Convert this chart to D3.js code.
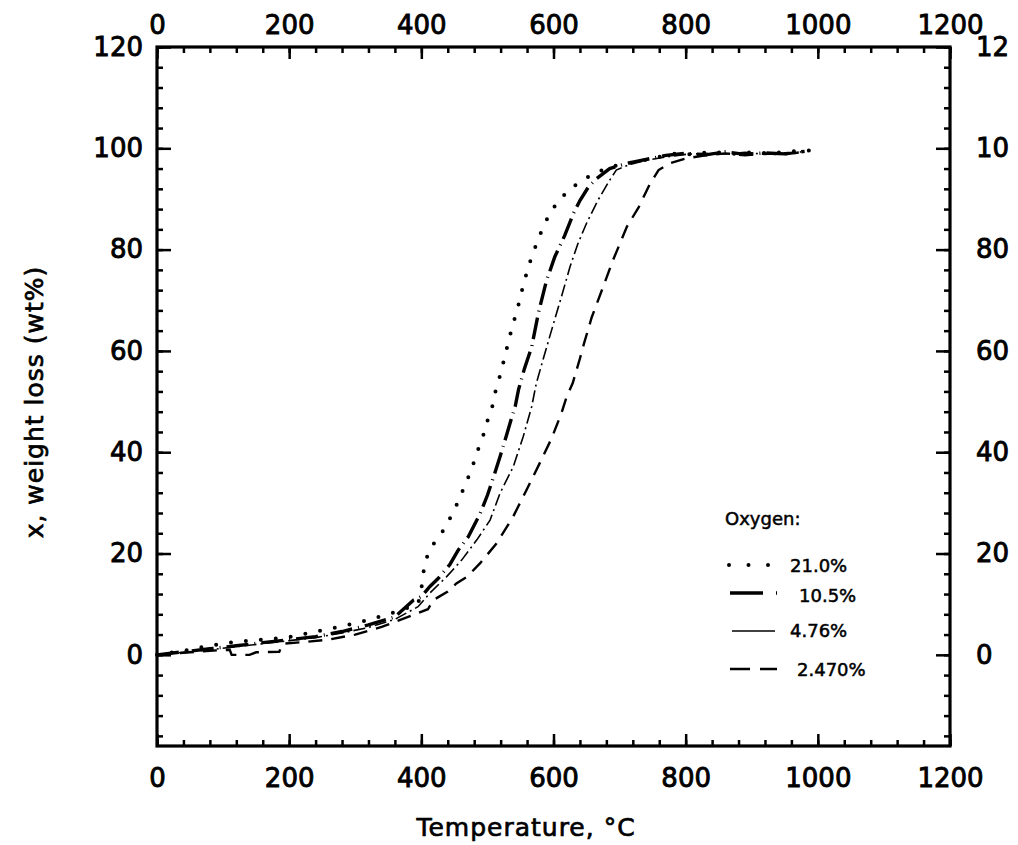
<!DOCTYPE html>
<html>
<head>
<meta charset="utf-8">
<script src="https://cdn.jsdelivr.net/npm/d3@7"></script>
<style>
  body { margin: 0; background: #fff; }
  svg text { font-family: "DejaVu Sans", sans-serif; fill: #000; }
  .tick line { stroke: #000; stroke-width: 2.5; }
  .ticklab text { font-size: 26px; stroke: #000; stroke-width: 0.9; }
</style>
</head>
<body>
<div class="vis"></div>
<script>
// x ticks (temperature, °C) and y ticks (weight loss, wt%)
const xMajor = [0, 200, 400, 600, 800, 1000, 1200];
const xMinor = d3.range(0, 1201, 40);
const yMajor = [0, 20, 40, 60, 80, 100, 120];
const yMinor = d3.range(-16, 121, 4);
const rightLabels = ["0", "20", "40", "60", "80", "10", "12"];

// series: [temperature, weight loss]
const o2_210 = [[0,0],[40,0.8],[80,1.8],[120,2.6],[160,3],[200,3.5],[240,4.6],[280,5.6],[320,6.9],[360,8.4],[395,10],[400,13],[404,17],[410,20],[418,21.8],[432,24.3],[444,27.1],[456,30.3],[466,33.5],[476,36.6],[484,39.9],[493,43],[500,46.2],[508,49.3],[513,52.5],[520,55.5],[526,58.7],[532,61.9],[538,65],[545,68],[551,71.3],[557,74.3],[564,77.4],[573,80.7],[582,83.7],[593,86.8],[606,89.4],[623,91.7],[641,93.5],[663,95.1],[685,96.3],[710,97],[736,97.6],[760,98.3],[786,99],[810,98.8],[840,99.3],[870,98.9],[900,99.2],[930,99],[960,99.4],[990,99.6]];
const o2_105 = [[0,0],[40,0.6],[80,1.2],[120,1.8],[160,2.4],[200,3],[240,3.6],[280,4.6],[320,5.9],[360,7.5],[388,10.8],[400,11.5],[413,13.5],[425,15],[443,17.8],[456,20.7],[471,23.3],[489,27.9],[500,31.5],[511,35.8],[520,39.5],[529,43.4],[536,46.5],[542,49],[547,52.3],[556,56.5],[567,60.8],[577,67.4],[589,73.7],[602,78.6],[617,82.8],[630,87.1],[640,89.7],[653,92.4],[665,94],[685,96],[710,97],[740,97.8],[770,98.6],[800,99],[830,98.7],[860,99.3],[890,98.8],[920,99.1],[950,98.9],[980,99.4]];
const o2_476 = [[0,0],[40,0.5],[80,1],[120,1.6],[160,2.2],[200,2.8],[240,3.4],[280,4.3],[320,5.4],[360,7],[395,9.5],[413,12.2],[438,15.4],[461,18.7],[484,22.7],[504,26.6],[519,31.9],[539,37.1],[554,43],[567,49],[574,53.6],[584,58.2],[600,65.4],[612,70.7],[625,76.6],[637,81.2],[650,85.2],[667,89.7],[685,93.7],[695,95.7],[715,96.8],[740,97.6],[770,98.3],[800,98.8],[830,99],[860,98.9],[890,99.2],[920,98.8],[950,99.1],[975,99.3]];
const o2_247 = [[0,0],[40,0.4],[80,0.8],[110,1],[113,0],[140,0],[150,0.5],[185,0.6],[190,2.2],[220,2.5],[260,3],[300,4],[340,5.5],[380,7.5],[410,9],[418,10.8],[440,12.5],[453,14.1],[470,15.5],[489,18.1],[514,22],[539,27.3],[559,32.5],[579,37.8],[597,42.7],[612,47.7],[620,51],[629,53.6],[640,58.5],[646,61.4],[658,66.7],[675,72.6],[690,77.9],[711,84.5],[729,88.4],[746,93],[759,95.7],[775,97],[800,98],[830,98.6],[860,99],[890,98.6],[920,99],[950,98.8],[985,99.4]];

const seriesNames = ["21.0%", "10.5%", "4.76%", "2.470%"];
const seriesData = [o2_210, o2_105, o2_476, o2_247];

(function () {
    const width = 1018, height = 845;
    const plot = { left: 157, right: 950, top: 47, bottom: 746 };

    const svg = d3.select('.vis').append('svg')
        .attr('width', width)
        .attr('height', height);

    const x = d3.scaleLinear().domain([0, 1200]).range([plot.left, plot.right]);
    const y = d3.scaleLinear().domain([-18, 120]).range([plot.bottom, plot.top]);

    // minor ticks (inward)
    const minorAxes = [
        [d3.axisBottom(x).tickValues(xMinor), `translate(0,${plot.bottom})`],
        [d3.axisTop(x).tickValues(xMinor), `translate(0,${plot.top})`],
        [d3.axisLeft(y).tickValues(yMinor), `translate(${plot.left},0)`],
        [d3.axisRight(y).tickValues(yMinor), `translate(${plot.right},0)`]
    ];
    minorAxes.forEach(function (a) {
        const g = svg.append('g')
            .attr('transform', a[1])
            .call(a[0].tickSize(-6).tickSizeOuter(0).tickFormat(''));
        g.select('.domain').remove();
        g.selectAll('.tick line').attr('stroke-width', 2);
    });

    // major ticks + labels
    const bottom = svg.append('g').attr('class', 'ticklab')
        .attr('transform', `translate(0,${plot.bottom})`)
        .call(d3.axisBottom(x).tickValues(xMajor).tickSize(-12).tickSizeOuter(0).tickPadding(23).tickFormat(d3.format('d')));
    const top = svg.append('g').attr('class', 'ticklab')
        .attr('transform', `translate(0,${plot.top})`)
        .call(d3.axisTop(x).tickValues(xMajor).tickSize(-12).tickSizeOuter(0).tickPadding(13).tickFormat(d3.format('d')));
    const left = svg.append('g').attr('class', 'ticklab')
        .attr('transform', `translate(${plot.left},0)`)
        .call(d3.axisLeft(y).tickValues(yMajor).tickSize(-14).tickSizeOuter(0).tickPadding(14).tickFormat(d3.format('d')));
    const right = svg.append('g').attr('class', 'ticklab')
        .attr('transform', `translate(${plot.right},0)`)
        .call(d3.axisRight(y).tickValues(yMajor).tickSize(-14).tickSizeOuter(0).tickPadding(26)
            .tickFormat(function (d, i) { return rightLabels[i]; }));
    [bottom, top, left, right].forEach(function (g) {
        g.select('.domain').remove();
        g.attr('font-size', null).attr('font-family', null);
    });

    // frame
    svg.append('rect')
        .attr('x', plot.left).attr('y', plot.top)
        .attr('width', plot.right - plot.left)
        .attr('height', plot.bottom - plot.top)
        .attr('fill', 'none')
        .attr('stroke', '#000')
        .attr('stroke-width', 3.2);

    // axis titles
    svg.append('text')
        .attr('x', 526).attr('y', 836)
        .attr('text-anchor', 'middle')
        .style('font-size', '25px')
        .style('letter-spacing', '1px')
        .style('stroke', '#000').style('stroke-width', 0.7)
        .text('Temperature,  °C');
    svg.append('text')
        .attr('transform', 'translate(43,402) rotate(-90)')
        .attr('text-anchor', 'middle')
        .style('font-size', '25px')
        .style('letter-spacing', '1px')
        .style('stroke', '#000').style('stroke-width', 0.7)
        .text('x, weight loss (wt%)');

    // line styles per series
    const styles = [
        { width: 4, dash: '0,15', cap: 'round' },
        { width: 3.4, dash: '22,6,1,6', cap: 'butt' },
        { width: 1.6, dash: '12,4,2,4', cap: 'butt' },
        { width: 2.4, dash: '14,9', cap: 'butt' }
    ];

    const line = d3.line()
        .x(function (d) { return x(d[0]); })
        .y(function (d) { return y(d[1]); });

    svg.append('g')
        .selectAll('path')
        .data(seriesData)
        .enter().append('path')
            .attr('d', line)
            .attr('fill', 'none')
            .attr('stroke', '#000')
            .attr('stroke-width', function (d, i) { return styles[i].width; })
            .attr('stroke-dasharray', function (d, i) { return styles[i].dash; })
            .attr('stroke-linecap', function (d, i) { return styles[i].cap; });

    // legend
    const legend = svg.append('g');
    legend.append('text')
        .attr('x', 725).attr('y', 525)
        .style('font-size', '18px')
        .style('stroke', '#000').style('stroke-width', 0.5)
        .text('Oxygen:');

    const legendRows = [
        { ly: 565, ty: 572, tx: 790, x1: 729, x2: 770, dash: '0,19.5', cap: 'round', w: 4 },
        { ly: 593, ty: 602, tx: 799, x1: 730, x2: 779, dash: '33,13,1,50', cap: 'butt', w: 3.4 },
        { ly: 631, ty: 637, tx: 790, x1: 732, x2: 775, dash: null, cap: 'butt', w: 1.6 },
        { ly: 669, ty: 676, tx: 797, x1: 730, x2: 777, dash: '20,10', cap: 'butt', w: 2.4 }
    ];
    legendRows.forEach(function (r, i) {
        legend.append('line')
            .attr('x1', r.x1).attr('x2', r.x2)
            .attr('y1', r.ly).attr('y2', r.ly)
            .attr('stroke', '#000')
            .attr('stroke-width', r.w)
            .attr('stroke-dasharray', r.dash)
            .attr('stroke-linecap', r.cap);
        legend.append('text')
            .attr('x', r.tx).attr('y', r.ty)
            .style('font-size', '18px')
            .style('stroke', '#000').style('stroke-width', 0.5)
            .text(seriesNames[i]);
    });
}(d3));
</script>
</body>
</html>
